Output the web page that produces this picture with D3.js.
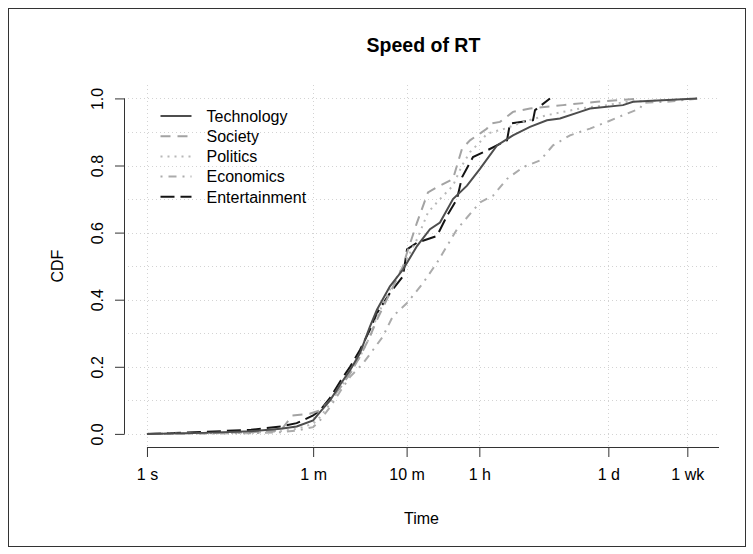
<!DOCTYPE html>
<html>
<head>
<meta charset="utf-8">
<script src="https://cdn.jsdelivr.net/npm/d3@7"></script>
<style>
  body { margin: 0; background: #fff; }
  svg text { font-family: "Liberation Sans", Arial, Helvetica, sans-serif; fill: #000; }
</style>
</head>
<body>
<div id="chart"></div>
<script>
// time in seconds, CDF value
var categories = ["Technology", "Society", "Politics", "Economics", "Entertainment"];

var techT = [1, 4, 13, 27, 40, 60, 71, 91, 119, 149, 190, 243, 289, 398, 549, 775, 1067, 1365, 1881, 2657, 3656, 5564, 8247, 12540, 19050, 26260, 42980, 54980, 124000, 158700, 768600];
var techV = [0, 0.003, 0.008, 0.015, 0.022, 0.04, 0.065, 0.1, 0.15, 0.19, 0.24, 0.32, 0.37, 0.44, 0.49, 0.56, 0.61, 0.63, 0.70, 0.74, 0.79, 0.86, 0.89, 0.915, 0.935, 0.94, 0.96, 0.97, 0.98, 0.99, 1.0];

var socT = [1, 4, 13, 27, 36, 55, 71, 91, 119, 149, 190, 243, 289, 398, 549, 606, 775, 1016, 1365, 1881, 2076, 2348, 2860, 4348, 4681, 5988, 8247, 12540, 28300, 65310, 188700];
var socV = [0, 0.002, 0.005, 0.01, 0.055, 0.06, 0.07, 0.1, 0.14, 0.18, 0.23, 0.29, 0.34, 0.42, 0.5, 0.54, 0.63, 0.72, 0.74, 0.76, 0.80, 0.85, 0.875, 0.91, 0.925, 0.93, 0.96, 0.97, 0.98, 0.99, 1.0];

var polT = [1, 13, 27, 40, 60, 71, 91, 119, 149, 190, 243, 289, 398, 549, 775, 1016, 1365, 1881, 2348, 2860, 3656, 4348, 6771, 10560, 19050, 42980, 83560, 136900, 366600, 768600];
var polV = [0, 0.003, 0.008, 0.015, 0.03, 0.05, 0.09, 0.14, 0.18, 0.23, 0.29, 0.35, 0.43, 0.5, 0.58, 0.66, 0.70, 0.74, 0.80, 0.84, 0.87, 0.895, 0.91, 0.93, 0.95, 0.97, 0.98, 0.99, 0.995, 1.0];

var ecoT = [1, 13, 27, 40, 60, 71, 91, 119, 149, 205, 262, 334, 426, 606, 900, 1268, 2076, 3656, 5043, 7115, 10560, 16040, 22120, 33600, 54980, 83560, 124000, 188700, 203200, 366600, 827600];
var ecoV = [0, 0.002, 0.005, 0.01, 0.02, 0.04, 0.08, 0.13, 0.17, 0.21, 0.25, 0.29, 0.35, 0.39, 0.45, 0.51, 0.61, 0.69, 0.71, 0.76, 0.795, 0.815, 0.86, 0.89, 0.91, 0.93, 0.95, 0.97, 0.987, 0.99, 1.0];

var entT = [1, 4, 13, 27, 40, 60, 71, 91, 119, 149, 190, 243, 289, 398, 549, 606, 775, 1268, 1623, 2076, 2348, 3078, 4348, 7115, 7659, 13510, 14200, 20520];
var entV = [0, 0.006, 0.012, 0.022, 0.032, 0.055, 0.07, 0.107, 0.16, 0.2, 0.25, 0.31, 0.36, 0.42, 0.47, 0.55, 0.57, 0.59, 0.65, 0.70, 0.765, 0.825, 0.845, 0.875, 0.925, 0.935, 0.965, 1.0];

var xTickValues = [1, 60, 600, 3600, 86400, 604800];
var xTickLabels = ["1 s", "1 m", "10 m", "1 h", "1 d", "1 wk"];
var yTickValues = [0, 0.2, 0.4, 0.6, 0.8, 1.0];
var yGridValues = [0, 0.1, 0.2, 0.3, 0.4, 0.5, 0.6, 0.7, 0.8, 0.9, 1.0];

var series = [
    {name: categories[0], t: techT, v: techV, color: "#4d4d4d", dash: null},
    {name: categories[1], t: socT, v: socV, color: "#a3a3a3", dash: "10 7"},
    {name: categories[2], t: polT, v: polV, color: "#b8b8b8", dash: "2 5"},
    {name: categories[3], t: ecoT, v: ecoV, color: "#ababab", dash: "2 6 8 6"},
    {name: categories[4], t: entT, v: entV, color: "#141414", dash: "14 6"}
];

var width = 753, height = 554;
var plot = {left: 124, right: 719, top: 85, bottom: 447.3};

var svg = d3.select("#chart").append("svg")
    .attr("width", width)
    .attr("height", height);

// outer frame
svg.append("rect")
    .attr("x", 8.5).attr("y", 8.5)
    .attr("width", 737).attr("height", 538)
    .attr("fill", "none")
    .attr("stroke", "#333")
    .attr("stroke-width", 1);

var x = d3.scaleLog()
    .domain([0.568, 1.32e6])
    .range([plot.left, plot.right]);

var y = d3.scaleLinear()
    .domain([-0.04, 1.04])
    .range([plot.bottom, plot.top]);

// grid
var grid = svg.append("g").attr("class", "grid")
    .attr("stroke", "#d3d3d3")
    .attr("stroke-dasharray", "1 3")
    .attr("stroke-width", 1);

grid.selectAll("line.h")
    .data(yGridValues)
    .enter().append("line")
    .attr("class", "h")
    .attr("x1", plot.left).attr("x2", plot.right)
    .attr("y1", d => Math.round(y(d)) + 0.5)
    .attr("y2", d => Math.round(y(d)) + 0.5);

grid.selectAll("line.v")
    .data(xTickValues)
    .enter().append("line")
    .attr("class", "v")
    .attr("y1", plot.top).attr("y2", plot.bottom)
    .attr("x1", d => Math.round(x(d)) + 0.5)
    .attr("x2", d => Math.round(x(d)) + 0.5);

// curves
var line = d3.line()
    .x(d => x(d[0]))
    .y(d => y(d[1]));

svg.append("g").selectAll("path")
    .data(series.slice().reverse())
    .enter().append("path")
    .attr("d", d => line(d.t.map((t, i) => [t, d.v[i]])))
    .attr("fill", "none")
    .attr("stroke", d => d.color)
    .attr("stroke-width", 2)
    .attr("stroke-dasharray", d => d.dash);

// x axis
var xAxis = d3.axisBottom(x)
    .tickValues(xTickValues)
    .tickFormat((d, i) => xTickLabels[i])
    .tickSize(9.5)
    .tickSizeOuter(0)
    .tickPadding(12);

var gx = svg.append("g")
    .attr("transform", "translate(0," + 447.5 + ")")
    .call(xAxis);
gx.select(".domain").remove();
gx.append("line")
    .attr("x1", x(1)).attr("x2", plot.right)
    .attr("y1", 0).attr("y2", 0)
    .attr("stroke", "#333");
gx.selectAll(".tick line").attr("stroke", "#333");
gx.selectAll(".tick text")
    .attr("font-size", "16px")
    .attr("fill", "#000");

// y axis
var yAxis = d3.axisLeft(y)
    .tickValues(yTickValues)
    .tickFormat(d3.format(".1f"))
    .tickSize(9.5)
    .tickSizeOuter(0);

var gy = svg.append("g")
    .attr("transform", "translate(" + 124.5 + ",0)")
    .call(yAxis);
gy.select(".domain").remove();
gy.append("line")
    .attr("x1", 0).attr("x2", 0)
    .attr("y1", y(0)).attr("y2", y(1))
    .attr("stroke", "#333");
gy.selectAll(".tick line").attr("stroke", "#333");
gy.selectAll(".tick text")
    .attr("font-size", "16px")
    .attr("x", null).attr("dy", null)
    .attr("text-anchor", "middle")
    .attr("transform", "translate(-21.5,0) rotate(-90)");

// titles
svg.append("text")
    .attr("x", (plot.left + plot.right) / 2 + 2)
    .attr("y", 52)
    .attr("text-anchor", "middle")
    .attr("font-size", "19.5px")
    .attr("font-weight", "bold")
    .text("Speed of RT");

svg.append("text")
    .attr("x", (plot.left + plot.right) / 2)
    .attr("y", 524)
    .attr("text-anchor", "middle")
    .attr("font-size", "16px")
    .text("Time");

svg.append("text")
    .attr("transform", "translate(63," + (plot.top + plot.bottom) / 2 + ") rotate(-90)")
    .attr("text-anchor", "middle")
    .attr("font-size", "16px")
    .text("CDF");

// legend
var legend = svg.append("g").attr("transform", "translate(160.5,116)");
var rows = legend.selectAll("g")
    .data(series)
    .enter().append("g")
    .attr("transform", (d, i) => "translate(0," + (i * 20.2) + ")");
rows.append("line")
    .attr("x1", 0).attr("x2", 31)
    .attr("stroke", d => d.color)
    .attr("stroke-width", 2)
    .attr("stroke-dasharray", d => d.dash);
rows.append("text")
    .attr("x", 46)
    .attr("y", 5.7)
    .attr("font-size", "16px")
    .text(d => d.name);
</script>
</body>
</html>
